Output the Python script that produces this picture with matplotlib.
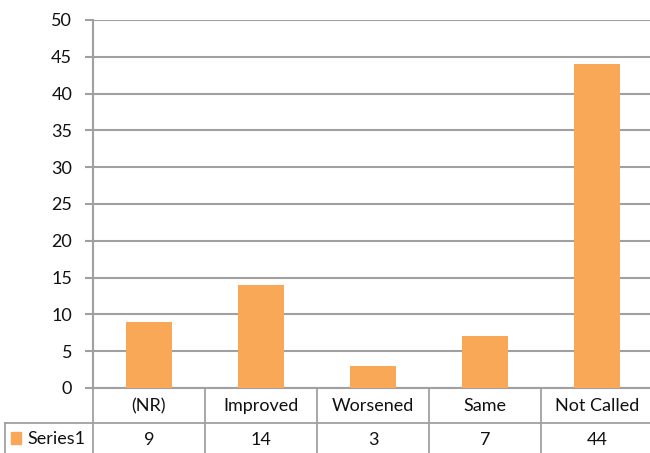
import numpy as np
import matplotlib
matplotlib.use('Agg')
import matplotlib.pyplot as plt
from matplotlib.patches import Rectangle

plt.rcParams['font.family'] = ['Lato', 'DejaVu Sans']

# --- data ---
categories = ['(NR)', 'Improved', 'Worsened', 'Same', 'Not Called']
values = [9, 14, 3, 7, 44]
series_name = 'Series1'
y_ticks = list(range(0, 51, 5))

BAR_COLOR = '#F9A857'
GRID = '#A0A0A0'
TXT = '#111111'
FS = 13
W, H = 650, 453

fig = plt.figure(figsize=(W / 100, H / 100), dpi=100)
# plot area in pixels: x 93..653 (right edge cropped), y 20..388
L, R, T, B = 93, 653, 20, 388
ax = fig.add_axes([L / W, 1 - B / H, (R - L) / W, (B - T) / H])

x = np.arange(len(categories))
ax.bar(x, values, width=0.41, color=BAR_COLOR, zorder=3)
ax.set_xlim(-0.5, len(categories) - 0.5)
ax.set_ylim(0, 50)
ax.set_yticks(y_ticks)
ax.set_yticklabels([str(t) for t in y_ticks], fontsize=FS, color=TXT)
ax.tick_params(axis='y', length=6, width=1.5, color=GRID, pad=9)
ax.set_xticks([])
ax.grid(axis='y', color=GRID, linewidth=1.5, zorder=0)
for s in ['top', 'right']:
    ax.spines[s].set_visible(False)
ax.spines['left'].set_color(GRID)
ax.spines['left'].set_linewidth(1.5)
ax.spines['bottom'].set_color(GRID)
ax.spines['bottom'].set_linewidth(1.5)

# --- data table under the chart (figure pixel coordinates) ---
def fx(px):
    return px / W

def fy(py):
    return 1 - py / H

row1_top, row2_top, row2_bot = 388, 423, 458
lw = 1.3
edges = np.linspace(L, R, len(categories) + 1)
lines = []
lines.append(([fx(5), fx(R)], [fy(row2_top), fy(row2_top)]))
for ex in edges:
    lines.append(([fx(ex), fx(ex)], [fy(row1_top), fy(row2_bot)]))
lines.append(([fx(5), fx(5)], [fy(row2_top), fy(row2_bot)]))
for xs, ys in lines:
    fig.add_artist(plt.Line2D(xs, ys, color=GRID, linewidth=lw))

centers = (edges[:-1] + edges[1:]) / 2
for cx, cat, val in zip(centers, categories, values):
    fig.text(fx(cx), fy(406), cat, ha='center', va='center', fontsize=FS, color=TXT)
    fig.text(fx(cx), fy(440), str(val), ha='center', va='center', fontsize=FS, color=TXT)

# legend key
fig.add_artist(Rectangle((fx(11), fy(444)), fx(10), 12 / H, color=BAR_COLOR))
fig.text(fx(27), fy(439), series_name, ha='left', va='center', fontsize=FS, color=TXT)

fig.savefig('out.png', dpi=100)
